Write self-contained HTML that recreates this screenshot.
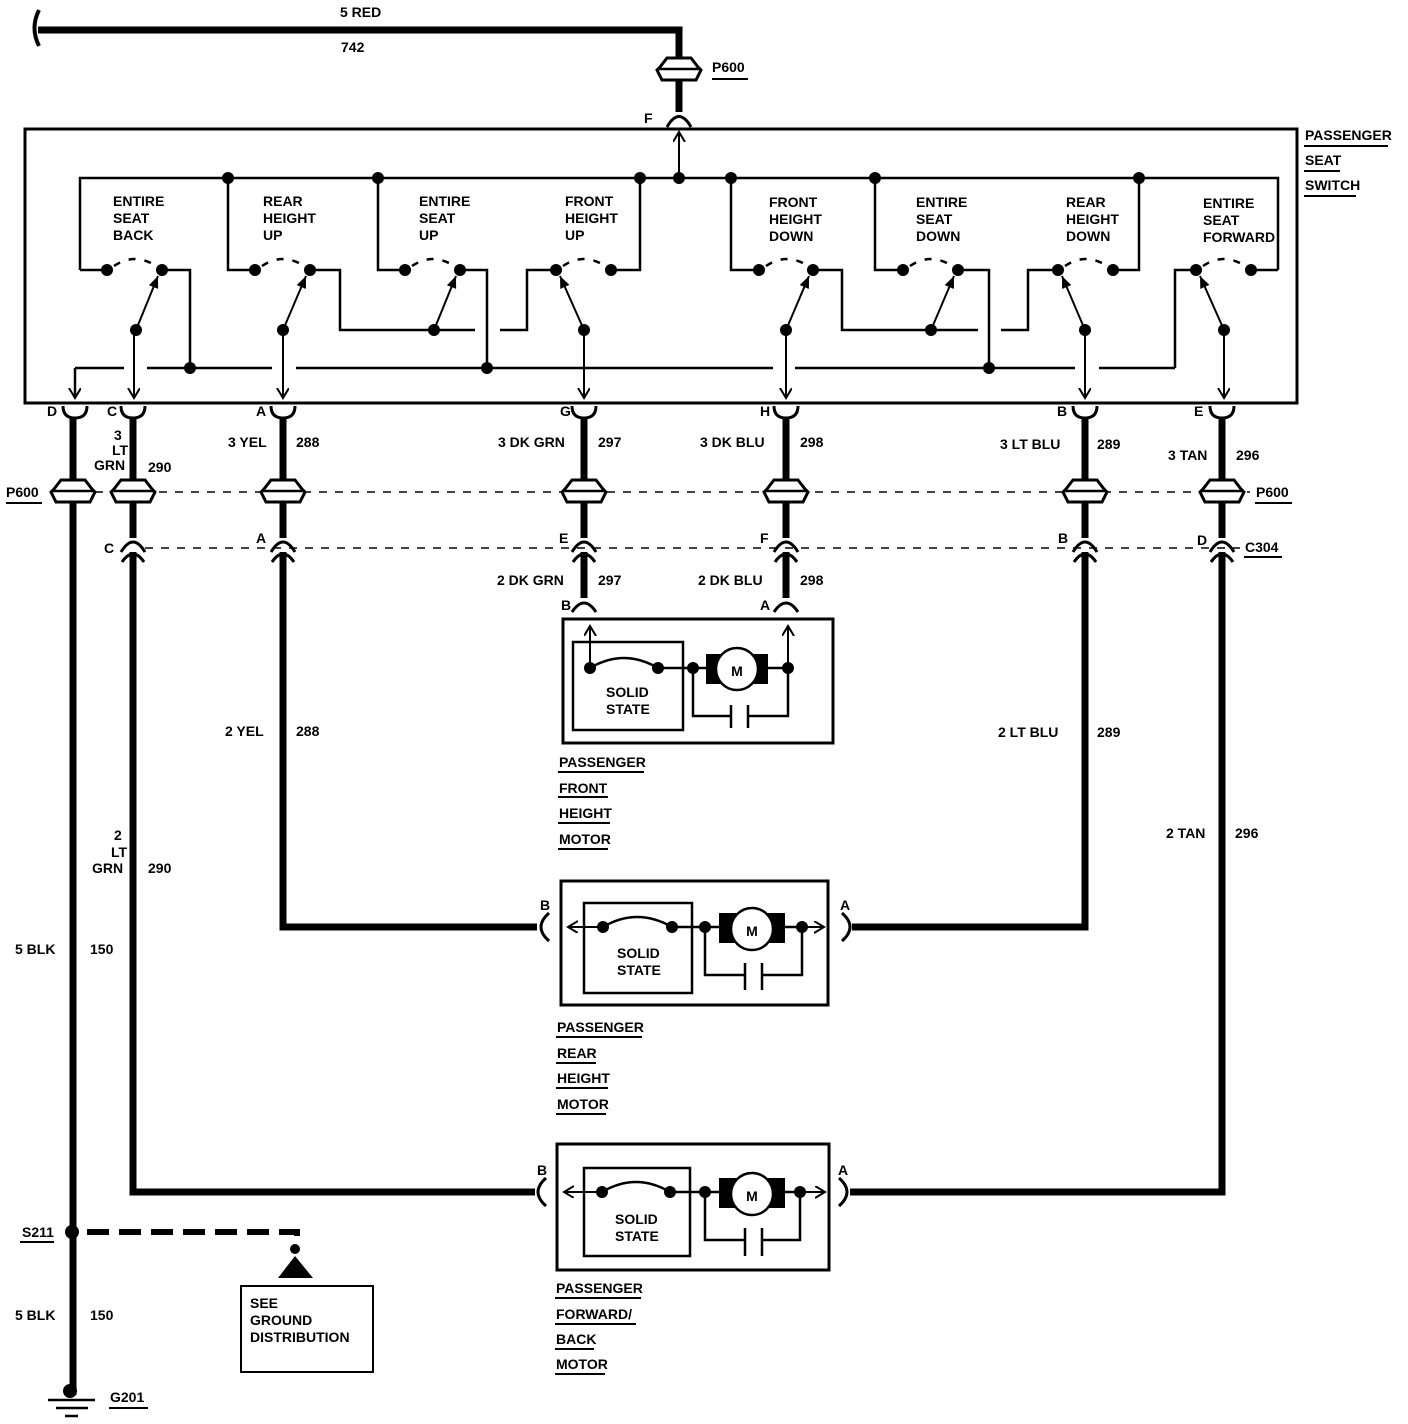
<!DOCTYPE html>
<html><head><style>
html,body{margin:0;padding:0;background:#fff;}
svg{display:block;}
text{font-family:"Liberation Sans",sans-serif;font-weight:bold;font-size:14px;fill:#000;}
</style></head><body>
<svg width="1408" height="1424" viewBox="0 0 1408 1424" xmlns="http://www.w3.org/2000/svg">
<defs>
<marker id="ar" markerWidth="14" markerHeight="14" refX="10" refY="6" orient="auto" markerUnits="userSpaceOnUse">
<path d="M0,0 L10,6 L0,12" fill="none" stroke="#000" stroke-width="2"/>
</marker>
<marker id="af" markerWidth="14" markerHeight="12" refX="12" refY="5" orient="auto" markerUnits="userSpaceOnUse">
<path d="M0,0 L12,5 L0,10 Z" fill="#000"/>
</marker>
</defs>
<g fill="none" stroke="#000">
<path d="M39,10 Q30,28 39,46" stroke-width="4"/>
<path d="M38,30 H679 V60" stroke-width="7"/>
<path d="M679,80 V112" stroke-width="7"/>
<path d="M667,127 Q679,106 691,127" stroke-width="3"/>
<rect x="25" y="129" width="1272" height="274" stroke-width="3"/>
<path d="M80,270 V178 H1278 V270" stroke-width="2.5"/>
<path d="M679,178 V132" stroke-width="2" marker-end="url(#ar)"/>
<g stroke-width="2.5">
<path d="M80,270 H107"/>
<path d="M162,270 H190 V368"/>
<path d="M228,178 V270 H255"/>
<path d="M310,270 H340 V330 H475"/>
<path d="M378,178 V270 H405"/>
<path d="M460,270 H487 V368"/>
<path d="M500,330 H527 V270 H556"/>
<path d="M611,270 H640 V178"/>
<path d="M731,178 V270 H759"/>
<path d="M813,270 H842 V330 H978"/>
<path d="M875,178 V270 H903"/>
<path d="M958,270 H989 V368"/>
<path d="M1001,330 H1028 V270 H1058"/>
<path d="M1113,270 H1139 V178"/>
<path d="M1251,270 H1278"/>
<path d="M1196,270 H1175 V368"/>
<path d="M75,368 H124 M147,368 H272 M296,368 H773 M795,368 H1075 M1099,368 H1175"/>
<path d="M75,368 V398" marker-end="url(#ar)"/>
</g>
<g stroke-width="2.5" stroke-dasharray="7 9">
<path d="M114,266 Q135,252 156,266"/>
<path d="M262,266 Q283,252 304,266"/>
<path d="M412,266 Q433,252 454,266"/>
<path d="M563,266 Q584,252 605,266"/>
<path d="M766,266 Q787,252 808,266"/>
<path d="M910,266 Q931,252 952,266"/>
<path d="M1065,266 Q1086,252 1107,266"/>
<path d="M1203,266 Q1224,252 1245,266"/>
</g>
<g stroke-width="2">
<path d="M136,330 L158,276" marker-end="url(#af)"/>
<path d="M283,330 L306,276" marker-end="url(#af)"/>
<path d="M434,330 L456,276" marker-end="url(#af)"/>
<path d="M584,330 L560,276" marker-end="url(#af)"/>
<path d="M786,330 L809,276" marker-end="url(#af)"/>
<path d="M931,330 L954,276" marker-end="url(#af)"/>
<path d="M1085,330 L1062,276" marker-end="url(#af)"/>
<path d="M1224,330 L1200,276" marker-end="url(#af)"/>
<path d="M134,330 V398" marker-end="url(#ar)"/>
<path d="M283,330 V398" marker-end="url(#ar)"/>
<path d="M584,330 V398" marker-end="url(#ar)"/>
<path d="M786,330 V398" marker-end="url(#ar)"/>
<path d="M1085,330 V398" marker-end="url(#ar)"/>
<path d="M1224,330 V398" marker-end="url(#ar)"/>
</g>
<g stroke-width="3">
<path d="M63,406 Q63,418 75,418 Q87,418 87,406"/>
<path d="M121,406 Q121,418 133,418 Q145,418 145,406"/>
<path d="M271,406 Q271,418 283,418 Q295,418 295,406"/>
<path d="M572,406 Q572,418 584,418 Q596,418 596,406"/>
<path d="M774,406 Q774,418 786,418 Q798,418 798,406"/>
<path d="M1073,406 Q1073,418 1085,418 Q1097,418 1097,406"/>
<path d="M1210,406 Q1210,418 1222,418 Q1234,418 1234,406"/>
</g>
<g stroke-width="7">
<path d="M73,418 V1395"/>
<path d="M133,418 V538"/>
<path d="M133,552 V1192 H535"/>
<path d="M283,418 V538"/>
<path d="M283,552 V927 H537"/>
<path d="M584,418 V538 M584,552 V598"/>
<path d="M786,418 V538 M786,552 V598"/>
<path d="M1085,418 V538"/>
<path d="M1085,552 V927 H852"/>
<path d="M1222,418 V538"/>
<path d="M1222,552 V1192 H850"/>
</g>
<path d="M95,492 H1250" stroke-width="1.5" stroke-dasharray="8 8"/>
<path d="M145,548 H1240" stroke-width="1.5" stroke-dasharray="8 8"/>
<g stroke-width="3">
<path d="M121,552 Q133,532 145,552 M122,562 Q133,546 144,562"/>
<path d="M271,552 Q283,532 295,552 M272,562 Q283,546 294,562"/>
<path d="M572,552 Q584,532 596,552 M573,562 Q584,546 595,562"/>
<path d="M774,552 Q786,532 798,552 M775,562 Q786,546 797,562"/>
<path d="M1073,552 Q1085,532 1097,552 M1074,562 Q1085,546 1096,562"/>
<path d="M1210,552 Q1222,532 1234,552 M1211,562 Q1222,546 1233,562"/>
<path d="M572,612 Q584,594 596,612"/>
<path d="M774,612 Q786,594 798,612"/>
</g>
</g>
<g fill="#fff" stroke="#000" stroke-width="3">
<path id="p6" d="M-12,-12 H12 L19,-3 L22,0 L17,10 H-17 L-22,0 L-19,-3 Z" transform="translate(679,70)"/>
<use href="#p6" transform="translate(-606,422)"/>
<use href="#p6" transform="translate(-546,422)"/>
<use href="#p6" transform="translate(-396,422)"/>
<use href="#p6" transform="translate(-95,422)"/>
<use href="#p6" transform="translate(107,422)"/>
<use href="#p6" transform="translate(406,422)"/>
<use href="#p6" transform="translate(543,422)"/>
</g>
<g stroke="#000" stroke-width="2.5">
<path d="M659,69 H699 M53,491 H93 M113,491 H153 M263,491 H303 M564,491 H604 M766,491 H806 M1065,491 H1105 M1202,491 H1242"/>
</g>
<g fill="#000">
<circle cx="228" cy="178" r="6"/><circle cx="378" cy="178" r="6"/><circle cx="640" cy="178" r="6"/><circle cx="679" cy="178" r="6"/>
<circle cx="731" cy="178" r="6"/><circle cx="875" cy="178" r="6"/><circle cx="1139" cy="178" r="6"/>
<circle cx="107" cy="270" r="6"/><circle cx="162" cy="270" r="6"/><circle cx="255" cy="270" r="6"/><circle cx="310" cy="270" r="6"/>
<circle cx="405" cy="270" r="6"/><circle cx="460" cy="270" r="6"/><circle cx="556" cy="270" r="6"/><circle cx="611" cy="270" r="6"/>
<circle cx="759" cy="270" r="6"/><circle cx="813" cy="270" r="6"/><circle cx="903" cy="270" r="6"/><circle cx="958" cy="270" r="6"/>
<circle cx="1058" cy="270" r="6"/><circle cx="1113" cy="270" r="6"/><circle cx="1196" cy="270" r="6"/><circle cx="1251" cy="270" r="6"/>
<circle cx="136" cy="330" r="6"/><circle cx="283" cy="330" r="6"/><circle cx="434" cy="330" r="6"/><circle cx="584" cy="330" r="6"/>
<circle cx="786" cy="330" r="6"/><circle cx="931" cy="330" r="6"/><circle cx="1085" cy="330" r="6"/><circle cx="1224" cy="330" r="6"/>
<circle cx="190" cy="368" r="6"/><circle cx="487" cy="368" r="6"/><circle cx="989" cy="368" r="6"/>
</g>
<!-- Motor 1 -->
<g fill="none" stroke="#000" stroke-width="2.5">
<rect x="563" y="619" width="270" height="124" stroke-width="3"/>
<rect x="573" y="642" width="110" height="88"/>
<path d="M590,668 V626" marker-end="url(#ar)" stroke-width="2"/>
<path d="M788,668 V626" marker-end="url(#ar)" stroke-width="2"/>
<path d="M590,668 Q624,648 658,668"/>
<path d="M658,668 H706 M768,668 H788"/>
<path d="M693,668 V716 H731 M748,716 H788 V668"/>
<path d="M731,705 V728 M748,705 V728"/>
</g>
<rect x="706" y="654" width="62" height="30" fill="#000"/>
<circle cx="737" cy="669" r="21" fill="#fff" stroke="#000" stroke-width="2.5"/>
<text x="737" y="676" text-anchor="middle" font-size="18">M</text>
<g fill="#000"><circle cx="590" cy="668" r="6"/><circle cx="658" cy="668" r="6"/><circle cx="693" cy="668" r="6"/><circle cx="788" cy="668" r="6"/></g>
<!-- Motor 2 -->
<g fill="none" stroke="#000" stroke-width="2.5">
<rect x="561" y="881" width="267" height="124" stroke-width="3"/>
<rect x="584" y="903" width="108" height="90"/>
<path d="M603,927 H568" marker-end="url(#ar)" stroke-width="2"/>
<path d="M802,927 H824" marker-end="url(#ar)" stroke-width="2"/>
<path d="M603,927 Q637,907 672,927"/>
<path d="M672,927 H719 M785,927 H802"/>
<path d="M705,927 V975 H745 M762,975 H802 V927"/>
<path d="M745,963 V990 M762,963 V990"/>
<path d="M549,913 Q533,927 549,941" stroke-width="3"/>
<path d="M842,913 Q858,927 842,941" stroke-width="3"/>
</g>
<rect x="719" y="913" width="66" height="30" fill="#000"/>
<circle cx="752" cy="929" r="21" fill="#fff" stroke="#000" stroke-width="2.5"/>
<text x="752" y="936" text-anchor="middle" font-size="18">M</text>
<g fill="#000"><circle cx="603" cy="927" r="6"/><circle cx="672" cy="927" r="6"/><circle cx="705" cy="927" r="6"/><circle cx="802" cy="927" r="6"/></g>
<!-- Motor 3 -->
<g fill="none" stroke="#000" stroke-width="2.5">
<rect x="557" y="1144" width="272" height="126" stroke-width="3"/>
<rect x="584" y="1168" width="106" height="88"/>
<path d="M602,1192 H564" marker-end="url(#ar)" stroke-width="2"/>
<path d="M800,1192 H825" marker-end="url(#ar)" stroke-width="2"/>
<path d="M602,1192 Q636,1172 670,1192"/>
<path d="M670,1192 H719 M785,1192 H800"/>
<path d="M705,1192 V1240 H745 M762,1240 H800 V1192"/>
<path d="M745,1228 V1256 M762,1228 V1256"/>
<path d="M546,1178 Q530,1192 546,1206" stroke-width="3"/>
<path d="M839,1178 Q855,1192 839,1206" stroke-width="3"/>
</g>
<rect x="719" y="1178" width="66" height="30" fill="#000"/>
<circle cx="752" cy="1194" r="21" fill="#fff" stroke="#000" stroke-width="2.5"/>
<text x="752" y="1201" text-anchor="middle" font-size="18">M</text>
<g fill="#000"><circle cx="602" cy="1192" r="6"/><circle cx="670" cy="1192" r="6"/><circle cx="705" cy="1192" r="6"/><circle cx="800" cy="1192" r="6"/></g>
<!-- ground -->
<circle cx="72" cy="1232" r="7" fill="#000"/>
<path d="M87,1232 H297 V1242" fill="none" stroke="#000" stroke-width="6" stroke-dasharray="22 10"/>
<circle cx="295" cy="1249" r="5" fill="#000"/>
<path d="M278,1278 L295,1256 L313,1278 Z" fill="#000"/>
<rect x="241" y="1286" width="132" height="86" fill="none" stroke="#000" stroke-width="2"/>
<circle cx="70" cy="1391" r="7" fill="#000"/>
<path d="M48,1400 H95 M56,1408 H88 M65,1416 H78" stroke="#000" stroke-width="2.5"/>
<g stroke="#000" stroke-width="2">
<path d="M712,79 H748 M6,503 H42 M1255,503 H1292 M1244,557 H1282 M20,1242 H54 M109,1408 H148"/>
<path d="M1304,146 H1388 M1304,171 H1340 M1304,196 H1356"/>
<path d="M558,772 H644 M558,797 H608 M558,823 H610 M558,849 H608"/>
<path d="M556,1037 H642 M556,1063 H596 M556,1088 H608 M556,1114 H606"/>
<path d="M555,1298 H641 M555,1324 H636 M555,1349 H594 M555,1374 H605"/>
</g>
<text x="340" y="17">5 RED</text>
<text x="341" y="52">742</text>
<text x="712" y="72">P600</text>
<text x="644" y="123">F</text>
<text x="1305" y="140">PASSENGER</text><text x="1305" y="165">SEAT</text><text x="1305" y="190">SWITCH</text>
<g font-size="13">
<text x="113" y="206">ENTIRE</text><text x="113" y="223">SEAT</text><text x="113" y="240">BACK</text>
<text x="263" y="206">REAR</text><text x="263" y="223">HEIGHT</text><text x="263" y="240">UP</text>
<text x="419" y="206">ENTIRE</text><text x="419" y="223">SEAT</text><text x="419" y="240">UP</text>
<text x="565" y="206">FRONT</text><text x="565" y="223">HEIGHT</text><text x="565" y="240">UP</text>
<text x="769" y="207">FRONT</text><text x="769" y="224">HEIGHT</text><text x="769" y="241">DOWN</text>
<text x="916" y="207">ENTIRE</text><text x="916" y="224">SEAT</text><text x="916" y="241">DOWN</text>
<text x="1066" y="207">REAR</text><text x="1066" y="224">HEIGHT</text><text x="1066" y="241">DOWN</text>
<text x="1203" y="208">ENTIRE</text><text x="1203" y="225">SEAT</text><text x="1203" y="242">FORWARD</text>
</g>
<text x="47" y="416">D</text><text x="107" y="416">C</text><text x="256" y="416">A</text><text x="560" y="416">G</text>
<text x="760" y="416">H</text><text x="1057" y="416">B</text><text x="1194" y="416">E</text>
<text x="114" y="440">3</text><text x="112" y="455">LT</text><text x="94" y="470">GRN</text><text x="148" y="472">290</text>
<text x="228" y="447">3 YEL</text><text x="296" y="447">288</text>
<text x="498" y="447">3 DK GRN</text><text x="598" y="447">297</text>
<text x="700" y="447">3 DK BLU</text><text x="800" y="447">298</text>
<text x="1000" y="449">3 LT BLU</text><text x="1097" y="449">289</text>
<text x="1168" y="460">3 TAN</text><text x="1236" y="460">296</text>
<text x="6" y="497">P600</text><text x="1256" y="497">P600</text>
<text x="104" y="553">C</text><text x="256" y="543">A</text><text x="559" y="543">E</text><text x="760" y="543">F</text>
<text x="1058" y="543">B</text><text x="1197" y="545">D</text><text x="1245" y="552">C304</text>
<text x="497" y="585">2 DK GRN</text><text x="598" y="585">297</text>
<text x="698" y="585">2 DK BLU</text><text x="800" y="585">298</text>
<text x="561" y="610">B</text><text x="760" y="610">A</text>
<text x="606" y="697">SOLID</text><text x="606" y="714">STATE</text>
<text x="225" y="736">2 YEL</text><text x="296" y="736">288</text>
<text x="998" y="737">2 LT BLU</text><text x="1097" y="737">289</text>
<text x="559" y="767">PASSENGER</text><text x="559" y="793">FRONT</text><text x="559" y="818">HEIGHT</text><text x="559" y="844">MOTOR</text>
<text x="114" y="840">2</text><text x="111" y="857">LT</text><text x="92" y="873">GRN</text><text x="148" y="873">290</text>
<text x="1166" y="838">2 TAN</text><text x="1235" y="838">296</text>
<text x="540" y="910">B</text><text x="840" y="910">A</text>
<text x="617" y="958">SOLID</text><text x="617" y="975">STATE</text>
<text x="15" y="954">5 BLK</text><text x="90" y="954">150</text>
<text x="557" y="1032">PASSENGER</text><text x="557" y="1058">REAR</text><text x="557" y="1083">HEIGHT</text><text x="557" y="1109">MOTOR</text>
<text x="537" y="1175">B</text><text x="838" y="1175">A</text>
<text x="615" y="1224">SOLID</text><text x="615" y="1241">STATE</text>
<text x="22" y="1237">S211</text>
<text x="250" y="1308" font-size="13">SEE</text><text x="250" y="1325" font-size="13">GROUND</text><text x="250" y="1342" font-size="13">DISTRIBUTION</text>
<text x="556" y="1293">PASSENGER</text><text x="556" y="1319">FORWARD/</text><text x="556" y="1344">BACK</text><text x="556" y="1369">MOTOR</text>
<text x="15" y="1320">5 BLK</text><text x="90" y="1320">150</text>
<text x="110" y="1402">G201</text>
</svg>
</body></html>
